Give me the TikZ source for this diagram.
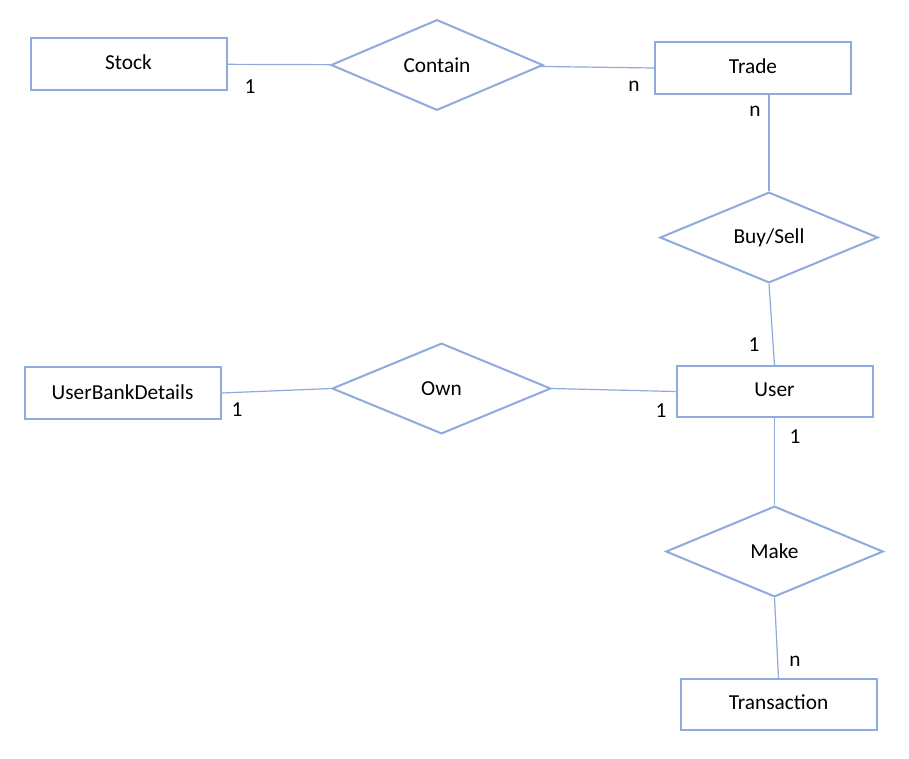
\documentclass[tikz,border=0pt]{standalone}
\usepackage{fontspec}
\setmainfont{Carlito}
\usepackage{xcolor}
\definecolor{erBlue}{RGB}{143,170,220}
\usepackage{tikz}
\usetikzlibrary{shapes.geometric}

\begin{document}
\begin{tikzpicture}[x=0.75pt,y=-0.75pt,
  txt/.style={font=\fontsize{16}{19}\selectfont,text=black},
  ent/.style={txt,draw=erBlue,line width=1.5pt,inner sep=0pt,minimum width=147pt,minimum height=38.5pt,text height=11pt,text depth=3.5pt},
  rel/.style={txt,diamond,draw=erBlue,line width=1.5pt,inner sep=0pt,minimum width=163.5pt,minimum height=68pt},
  lnk/.style={erBlue,line width=0.9pt},
  card/.style={txt,inner sep=0pt}]
  \useasboundingbox (0,0) rectangle (909,758);
  % entities
  \node[ent] (stock) at (128.5,64) {Stock};
  \node[ent] (trade) at (753,68) {Trade};
  \node[ent] (user) at (774.5,391.5) {User};
  \node[ent,text height=10.3pt,text depth=0pt] (bank) at (122.5,393) {UserBankDetails};
  \node[ent] (trans) at (778.5,704.5) {Transaction};
  % relationships
  \node[rel,minimum width=159pt] (contain) at (437,65) {Contain};
  \node[rel] (buysell) at (769,237.5) {Buy/Sell};
  \node[rel,minimum width=164pt] (own) at (441.5,388.5) {Own};
  \node[rel,minimum width=163pt] (make) at (774.5,551.5) {Make};

  \draw[lnk] (stock) -- (contain);
  \draw[lnk] (contain) -- (trade.west);
  \draw[lnk] (buysell.north |- trade.south) -- (buysell.north);
  \draw[lnk] (buysell.south) -- (user.north);
  \draw[lnk] (bank.east) -- (own.west);
  \draw[lnk] (own.east) -- (user.west);
  \draw[lnk] (user.south) -- (make.north);
  \draw[lnk] (make.south) -- (trans.north);
  % cardinalities
  \node[card] (c1) at (250,87) {1};
  \node[card] (c2) at (634,86) {n};
  \node[card] (c3) at (755,111) {n};
  \node[card] (c4) at (754,345) {1};
  \node[card] (c5) at (237,410) {1};
  \node[card] (c6) at (661,411) {1};
  \node[card] (c7) at (795,437) {1};
  \node[card] (c8) at (795,661) {n};
\end{tikzpicture}
\end{document}
